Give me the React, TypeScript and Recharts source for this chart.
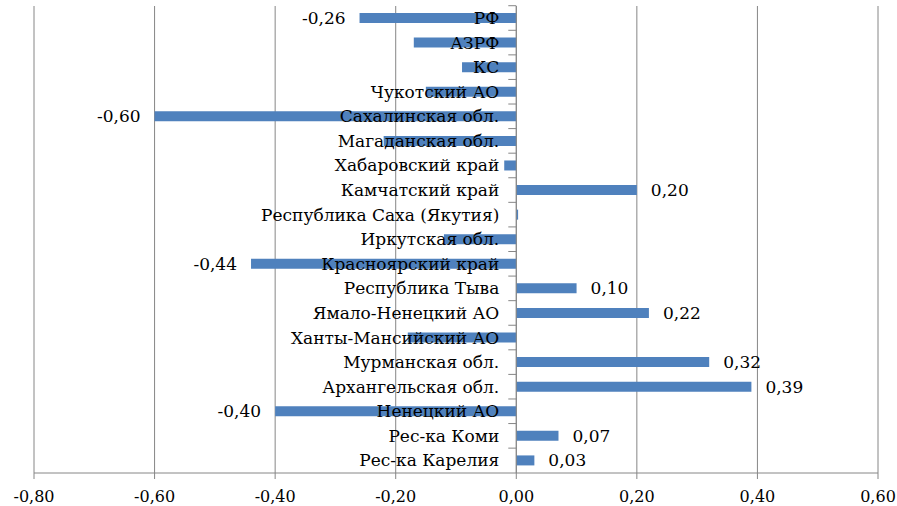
import { Bar, BarChart, CartesianGrid, LabelList, ReferenceLine, XAxis, YAxis } from "recharts"

const regions = [
  "РФ",
  "АЗРФ",
  "КС",
  "Чукотский АО",
  "Сахалинская обл.",
  "Магаданская обл.",
  "Хабаровский край",
  "Камчатский край",
  "Республика Саха (Якутия)",
  "Иркутская обл.",
  "Красноярский край",
  "Республика Тыва",
  "Ямало-Ненецкий АО",
  "Ханты-Мансийский АО",
  "Мурманская обл.",
  "Архангельская обл.",
  "Ненецкий АО",
  "Рес-ка Коми",
  "Рес-ка Карелия",
]

const values = [
  -0.26, -0.17, -0.09, -0.15, -0.6, -0.22, -0.02, 0.2, 0.003, -0.12, -0.44, 0.1, 0.22, -0.18, 0.32, 0.39,
  -0.4, 0.07, 0.03,
]

// which bars carry a data label in the original
const showValue = [
  true, false, false, false, true, false, false, true, false, false, true, true, true, false, true, true,
  true, true, true,
]

const xTicks = [-0.8, -0.6, -0.4, -0.2, 0, 0.2, 0.4, 0.6]

const W = 897
const H = 506
const margin = { top: 6, right: 19, bottom: 0, left: 34 }
const X_AXIS_H = 33
const BAND = (H - margin.top - margin.bottom - X_AXIS_H) / regions.length
const FONT = "'DejaVu Serif', serif"
const GRID = "#868686"

const data = regions.map((name, i) => ({ name, value: values[i] }))

const fmt = (v: number) => v.toFixed(2).replace(".", ",").replace("-0,00", "0,00")

function geom(props: any) {
  const vb = props.viewBox ?? {}
  const x = props.x ?? vb.x
  const y = props.y ?? vb.y
  const w = props.width ?? vb.width
  const h = props.height ?? vb.height
  const v = values[props.index] ?? 0
  const a = x
  const b = x + w
  const zero = v < 0 ? Math.max(a, b) : Math.min(a, b)
  const end = v < 0 ? Math.min(a, b) : Math.max(a, b)
  return { zero, end, cy: y + h / 2, v }
}

function CategoryLabel(props: any) {
  const { zero, cy } = geom(props)
  const name = regions[props.index]
  const top = cy - BAND / 2
  return (
    <g>
      <line x1={zero - 8} x2={zero} y1={top} y2={top} stroke={GRID} />
      <text x={zero - 17} y={cy} dy={6} textAnchor="end" fontFamily={FONT} fontSize={17} fill="#000">
        {name}
      </text>
    </g>
  )
}

function ValueLabel(props: any) {
  const { end, cy, v } = geom(props)
  if (!showValue[props.index]) return null
  return (
    <text
      x={v < 0 ? end - 14 : end + 14}
      y={cy}
      dy={6}
      textAnchor={v < 0 ? "end" : "start"}
      fontFamily={FONT}
      fontSize={17}
      fill="#000"
    >
      {fmt(v)}
    </text>
  )
}

export default function App() {
  return (
    <div style={{ position: "absolute", left: 0, top: 0, background: "#fff" }}>
      <BarChart width={W} height={H} data={data} layout="vertical" margin={margin} barSize={10}>
        <CartesianGrid horizontal={false} stroke={GRID} />
        <XAxis
          type="number"
          domain={[-0.8, 0.6]}
          ticks={xTicks}
          tickFormatter={fmt}
          height={X_AXIS_H}
          tickSize={6}
          tickMargin={12}
          stroke={GRID}
          tick={{ fill: "#000", fontFamily: FONT, fontSize: 16 }}
          allowDataOverflow
        />
        <YAxis type="category" dataKey="name" hide />
        <ReferenceLine x={0} stroke={GRID} />
        <Bar dataKey="value" fill="#4F81BD" isAnimationActive={false}>
          <LabelList dataKey="value" content={<ValueLabel />} />
          <LabelList dataKey="name" content={<CategoryLabel />} />
        </Bar>
      </BarChart>
    </div>
  )
}
